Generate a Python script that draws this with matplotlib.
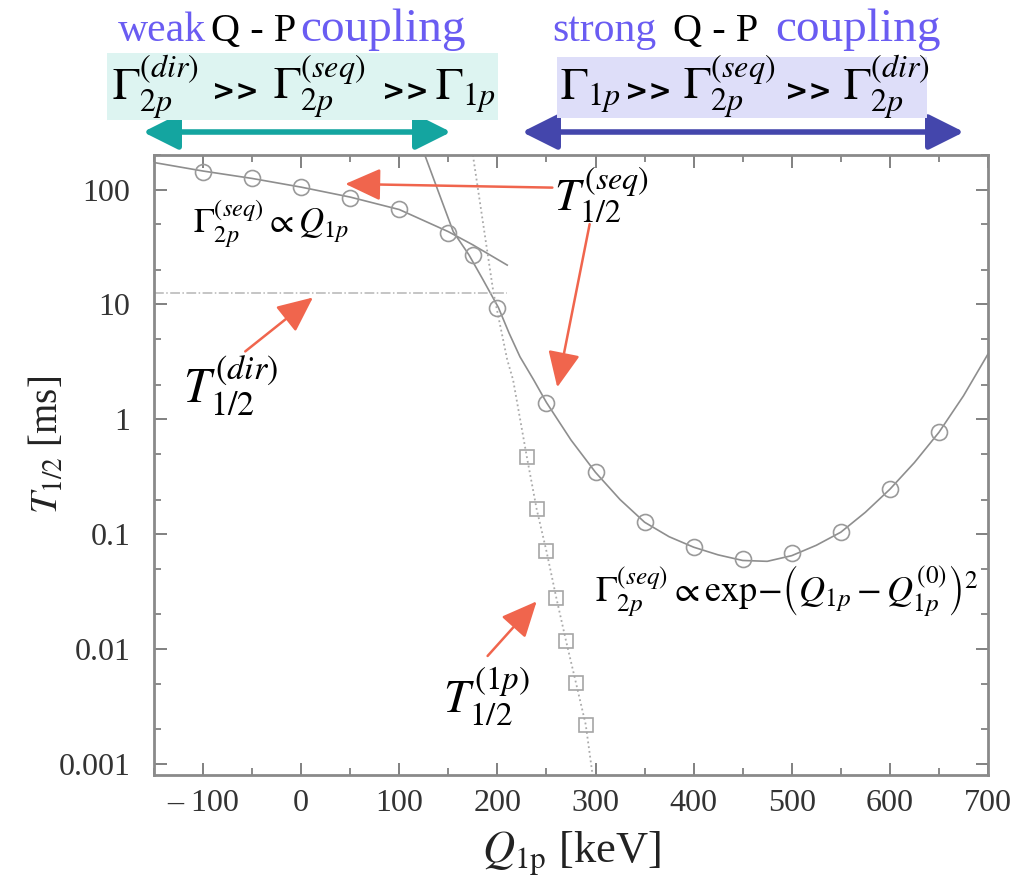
import numpy as np
import matplotlib
matplotlib.use("Agg")
import matplotlib.pyplot as plt
from matplotlib.patches import Rectangle
from matplotlib.ticker import LogLocator, MultipleLocator, FixedLocator

plt.rcParams['font.family'] = 'serif'
plt.rcParams['font.serif'] = ['Liberation Serif', 'DejaVu Serif']
plt.rcParams['mathtext.fontset'] = 'stix'

W, H = 1018, 881

# circles: sequential two-proton half-life
seq_x = [-100, -50, 0, 50, 100, 150, 175, 200, 250, 300, 350, 400, 450, 500, 550, 600, 650]
seq_y = [143, 125, 106, 85, 68, 42, 27, 9.4, 1.4, 0.345, 0.127, 0.077, 0.061, 0.068, 0.104, 0.246, 0.77]

# squares: one-proton half-life
onep_x = [230, 240, 250, 260, 270, 280, 290]
onep_y = [0.47, 0.165, 0.071, 0.028, 0.0117, 0.0051, 0.0022]

# fit curve in weak coupling regime
weak_x = [-150, -100, -50, 0, 50, 100, 150, 175, 210]
weak_y = [172, 145, 125, 105, 86, 67, 43, 33, 22]

# fit curve in strong coupling regime
strong_x = [126, 140, 155, 171, 185, 201, 212, 223, 237, 250, 275, 300, 325, 350, 375, 400,
            425, 450, 475, 500, 525, 550, 575, 600, 625, 650, 675, 700]
strong_y = [200, 95, 43, 27, 16.6, 9.4, 5.6, 3.5, 2.2, 1.4, 0.66, 0.345, 0.2, 0.127, 0.095, 0.077,
            0.066, 0.059, 0.058, 0.065, 0.08, 0.104, 0.155, 0.246, 0.42, 0.77, 1.6, 3.7]

# one-proton trend (dotted)
onep_line_x = [175, 186, 196, 210, 216, 230, 240, 250, 260, 270, 280, 290, 297]
onep_line_y = [200, 47, 12.6, 3.3, 2.2, 0.47, 0.165, 0.071, 0.028, 0.0117, 0.0051, 0.0022, 0.0008]

# direct decay level
dir_x = [-150, 210]
dir_y = [12.5, 12.5]

xticks = [-100, 0, 100, 200, 300, 400, 500, 600, 700]
xticklabels = ['\u2013 100', '0', '100', '200', '300', '400', '500', '600', '700']
yticks = [0.001, 0.01, 0.1, 1, 10, 100]
yticklabels = ['0.001', '0.01', '0.1', '1', '10', '100']

fig = plt.figure(figsize=(W / 100, H / 100), dpi=100)
ax = fig.add_axes([154 / W, 1 - 775 / H, 834 / W, 620 / H])
ax.set_yscale('log')
ax.set_xlim(-150, 700)
ax.set_ylim(8e-4, 200)

gray = '#8e8e8e'
ax.plot(weak_x, weak_y, '-', color=gray, lw=1.2)
ax.plot(strong_x, strong_y, '-', color=gray, lw=1.2)
ax.plot(onep_line_x, onep_line_y, ':', color='#aaaaaa', lw=1.3)
ax.plot(dir_x, dir_y, '-.', color='#b5b5b5', lw=1.1)
ax.plot(seq_x, seq_y, 'o', ms=11.5, mfc='none', mec='#9a9a9a', mew=1.2)
ax.plot(onep_x, onep_y, 's', ms=10, mfc='none', mec='#a5a5a5', mew=1.2)

for s in ax.spines.values():
    s.set_color('#8a8a8a')
    s.set_linewidth(2)
ax.xaxis.set_major_locator(FixedLocator(xticks))
ax.set_xticklabels(xticklabels)
ax.xaxis.set_minor_locator(MultipleLocator(50))
ax.yaxis.set_major_locator(FixedLocator(yticks))
ax.set_yticklabels(yticklabels)
ax.yaxis.set_minor_locator(LogLocator(base=10, subs=(2, 5)))
ax.yaxis.set_minor_formatter(plt.NullFormatter())
ax.tick_params(which='both', direction='in', top=True, right=True, color='#777777')
ax.tick_params(which='major', length=9, width=1.3, labelsize=23, labelcolor='#333333')
ax.tick_params(which='minor', length=5, width=1.2)
ax.tick_params(axis='x', pad=10)
ax.tick_params(axis='y', pad=17)

ax.set_xlabel(r'$Q_{1\mathrm{p}}$ [keV]', fontsize=32, color='#222222')
ax.xaxis.set_label_coords(0.5, -0.088)
ax.set_ylabel(r'$T_{1/2}$ [ms]', fontsize=28, color='#222222')
ax.yaxis.set_label_coords(-0.105, 0.532)

# annotations inside the axes
ax.text(-110, 50, r'$\Gamma_{2p}^{(seq)} \propto Q_{1p}$', fontsize=25, va='center', ha='left')
ax.text(258, 90, r'$T_{1/2}^{(seq)}$', fontsize=33, va='center', ha='left')
ax.text(-120, 2.0, r'$T_{1/2}^{(dir)}$', fontsize=35, va='center', ha='left')
ax.text(145, 0.0039, r'$T_{1/2}^{(1p)}$', fontsize=34, va='center', ha='left')
ax.text(299, 0.032, r'$\Gamma_{2p}^{(seq)} \propto \mathrm{exp}\!-\!\left(Q_{1p}-Q_{1p}^{(0)}\right)^2$',
        fontsize=26, va='center', ha='left')

red = '#f0654d'
aprops = dict(arrowstyle='-|>,head_length=1.1,head_width=0.5', color=red, lw=1.8,
              shrinkA=0, shrinkB=0, mutation_scale=20)
ax.annotate('', xy=(45, 112), xytext=(256, 104), arrowprops=aprops)
ax.annotate('', xy=(261, 1.9), xytext=(294, 50), arrowprops=aprops)
ax.annotate('', xy=(12, 11.5), xytext=(-57, 3.9), arrowprops=aprops)
ax.annotate('', xy=(240, 0.026), xytext=(190, 0.0087), arrowprops=aprops)

# header above the plot
blue = '#6a5cf2'
yb = 1 - 41 / H
fig.text(118 / W, yb, 'weak', color=blue, fontsize=30, ha='left', va='baseline')
fig.text(254 / W, yb, 'Q - P', color='black', fontsize=29, ha='center', va='baseline')
fig.text(300 / W, yb, 'coupling', color=blue, fontsize=34, ha='left', va='baseline')
fig.text(552 / W, yb, 'strong', color=blue, fontsize=30, ha='left', va='baseline')
fig.text(716 / W, yb, 'Q - P', color='black', fontsize=29, ha='center', va='baseline')
fig.text(775 / W, yb, 'coupling', color=blue, fontsize=34, ha='left', va='baseline')

fig.patches.append(Rectangle((107 / W, 1 - 120 / H), 391 / W, 67 / H, transform=fig.transFigure,
                             facecolor='#ddf4f1', edgecolor='none'))
fig.patches.append(Rectangle((557 / W, 1 - 118 / H), 370 / W, 61 / H, transform=fig.transFigure,
                             facecolor='#dedef9', edgecolor='none'))

gam = dict(fontsize=33)
gg = dict(fontsize=20, family='DejaVu Sans', weight='bold')
rel_left = [(112, r'$\Gamma_{2p}^{(dir)}$', gam), (212, '>>', gg), (273, r'$\Gamma_{2p}^{(seq)}$', gam),
            (382, '>>', gg), (435, r'$\Gamma_{1p}$', gam)]
rel_right = [(560, r'$\Gamma_{1p}$', gam), (625, '>>', gg), (683, r'$\Gamma_{2p}^{(seq)}$', gam),
             (785, '>>', gg), (843, r'$\Gamma_{2p}^{(dir)}$', gam)]
for x, s, kw in rel_left + rel_right:
    fig.text(x / W, 1 - 100 / H, s, ha='left', va='baseline', **kw)

# regime arrows
ax.annotate('', xy=(143, H - 132), xytext=(451, H - 132), xycoords='figure pixels',
            textcoords='figure pixels',
            arrowprops=dict(arrowstyle='<|-|>,head_length=1.2,head_width=0.6', color='#14a5a0',
                            lw=4, mutation_scale=18, shrinkA=0, shrinkB=0))
ax.annotate('', xy=(522, H - 132), xytext=(964, H - 132), xycoords='figure pixels',
            textcoords='figure pixels',
            arrowprops=dict(arrowstyle='<|-|>,head_length=1.2,head_width=0.6', color='#4446ac',
                            lw=4, mutation_scale=18, shrinkA=0, shrinkB=0))

fig.savefig('out.png', dpi=100)
